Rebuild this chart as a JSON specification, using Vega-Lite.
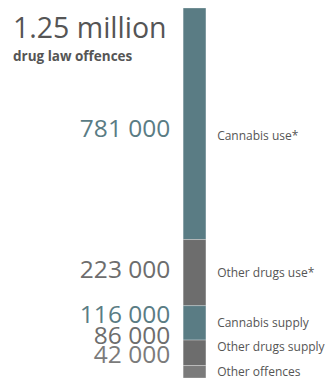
{
  "$schema": "https://vega.github.io/schema/vega-lite/v6.json",
  "width": 330,
  "height": 370,
  "autosize": {"type": "none"},
  "padding": {"top": 8, "left": 0, "right": 0, "bottom": 2},
  "background": "white",
  "config": {
    "view": {"stroke": null},
    "font": "Open Sans",
    "locale": {"number": {"decimal": ".", "thousands": " ", "grouping": [3], "currency": ["", ""]}}
  },
  "title": {
    "text": "1.25 million",
    "subtitle": "drug law offences",
    "anchor": "start",
    "frame": "group",
    "orient": "top",
    "offset": -56,
    "dx": 13,
    "fontSize": 28.5,
    "fontWeight": "normal",
    "color": "#555555",
    "subtitleFontSize": 13.5,
    "subtitleFontWeight": "bold",
    "subtitleColor": "#555555",
    "subtitlePadding": 7
  },
  "data": {
    "values": [
      {"category": "Cannabis use*", "group": "cannabis", "value": 781000, "order": 5},
      {"category": "Other drugs use*", "group": "other drugs", "value": 223000, "order": 4},
      {"category": "Cannabis supply", "group": "cannabis", "value": 116000, "order": 3},
      {"category": "Other drugs supply", "group": "other drugs", "value": 86000, "order": 2},
      {"category": "Other offences", "group": "other offences", "value": 42000, "order": 1}
    ]
  },
  "transform": [
    {"stack": "value", "groupby": [], "sort": [{"field": "order", "order": "ascending"}], "as": ["y0", "y1"]}
  ],
  "encoding": {
    "color": {"field": "group", "type": "nominal", "legend": null,
      "scale": {"domain": ["cannabis", "other drugs", "other offences"], "range": ["#5a7c84", "#6d6d6d", "#7b7b7b"]}}
  },
  "layer": [
    {
      "mark": {"type": "bar", "stroke": "#ffffff", "strokeOpacity": 0.35, "strokeWidth": 0.8},
      "encoding": {
        "x": {"datum": 55.5, "type": "quantitative", "scale": {"domain": [0, 100]}, "axis": null},
        "x2": {"datum": 62.4},
        "y": {"field": "y0", "type": "quantitative", "scale": {"domain": [0, 1248000], "nice": false}, "axis": null},
        "y2": {"field": "y1"}
      }
    },
    {
      "transform": [
        {"fold": ["y0", "y1"], "as": ["edge", "pos"]},
        {"aggregate": [{"op": "mean", "field": "pos", "as": "mid"}], "groupby": ["category", "group", "value"]}
      ],
      "layer": [
        {
          "transform": [{"filter": {"field": "category", "equal": "Cannabis use*"}}],
          "mark": {"type": "text", "align": "right", "baseline": "middle", "fontSize": 24.5, "dy": 6},
          "encoding": {
            "x": {"datum": 51.6, "type": "quantitative"},
            "y": {"field": "mid", "type": "quantitative"},
            "text": {"field": "value", "type": "quantitative", "format": ","}
          }
        },
        {
          "transform": [{"filter": {"field": "category", "equal": "Other drugs use*"}}],
          "mark": {"type": "text", "align": "right", "baseline": "middle", "fontSize": 24.5, "dy": -2},
          "encoding": {
            "x": {"datum": 51.6, "type": "quantitative"},
            "y": {"field": "mid", "type": "quantitative"},
            "text": {"field": "value", "type": "quantitative", "format": ","}
          }
        },
        {
          "transform": [{"filter": {"field": "category", "equal": "Cannabis supply"}}],
          "mark": {"type": "text", "align": "right", "baseline": "middle", "fontSize": 24.5, "dy": -7},
          "encoding": {
            "x": {"datum": 51.6, "type": "quantitative"},
            "y": {"field": "mid", "type": "quantitative"},
            "text": {"field": "value", "type": "quantitative", "format": ","}
          }
        },
        {
          "transform": [{"filter": {"field": "category", "oneOf": ["Other drugs supply", "Other offences"]}}],
          "mark": {"type": "text", "align": "right", "baseline": "middle", "fontSize": 24.5, "dy": -16},
          "encoding": {
            "x": {"datum": 51.6, "type": "quantitative"},
            "y": {"field": "mid", "type": "quantitative"},
            "text": {"field": "value", "type": "quantitative", "format": ","}
          }
        },
        {
          "transform": [{"filter": {"field": "category", "equal": "Cannabis use*"}}],
          "mark": {"type": "text", "align": "left", "baseline": "middle", "fontSize": 12, "dy": 12},
          "encoding": {
            "x": {"datum": 65.8, "type": "quantitative"},
            "y": {"field": "mid", "type": "quantitative"},
            "text": {"field": "category", "type": "nominal"},
            "color": {"value": "#555555"}
          }
        },
        {
          "transform": [{"filter": {"field": "category", "oneOf": ["Other drugs use*", "Cannabis supply", "Other offences"]}}],
          "mark": {"type": "text", "align": "left", "baseline": "middle", "fontSize": 12, "dy": 0},
          "encoding": {
            "x": {"datum": 65.8, "type": "quantitative"},
            "y": {"field": "mid", "type": "quantitative"},
            "text": {"field": "category", "type": "nominal"},
            "color": {"value": "#555555"}
          }
        },
        {
          "transform": [{"filter": {"field": "category", "equal": "Other drugs supply"}}],
          "mark": {"type": "text", "align": "left", "baseline": "middle", "fontSize": 12, "dy": -6},
          "encoding": {
            "x": {"datum": 65.8, "type": "quantitative"},
            "y": {"field": "mid", "type": "quantitative"},
            "text": {"field": "category", "type": "nominal"},
            "color": {"value": "#555555"}
          }
        }
      ]
    }
  ]
}
